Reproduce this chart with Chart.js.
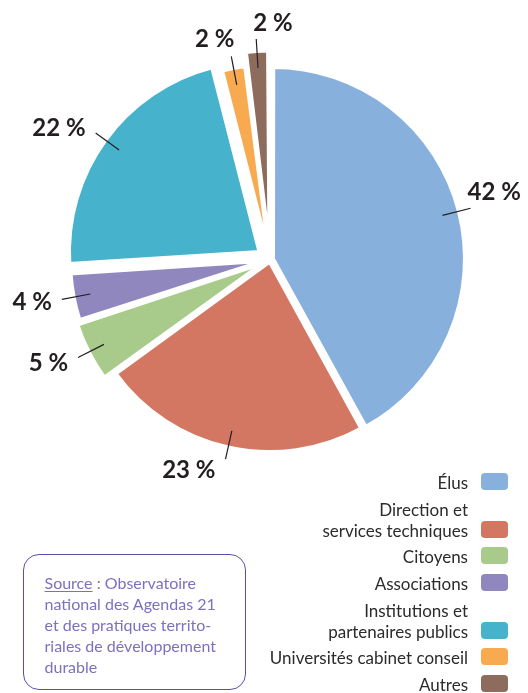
<!DOCTYPE html>
<html lang="fr">
<head>
    <meta charset="UTF-8">
    <title>Acteurs impliqués</title>
    <script src="https://cdn.jsdelivr.net/npm/chart.js"></script>
    <style>
        body {
            margin: 0;
            background: #fff;
            font-family: Lato, "Open Sans", sans-serif;
        }
        #page {
            position: relative;
            width: 528px;
            height: 693px;
            overflow: hidden;
        }
        #chart-container {
            position: absolute;
            left: 0;
            top: 0;
            width: 528px;
            height: 693px;
        }
        #legend {
            position: absolute;
            right: 20px;
            top: 472px;
            color: #2b2b2b;
            font-size: 17px;
            line-height: 21px;
        }
        .item {
            display: flex;
            justify-content: flex-end;
            align-items: flex-end;
            margin-bottom: 5.7px;
            text-align: right;
        }
        .box {
            width: 27px;
            height: 17px;
            border-radius: 4px;
            margin-left: 13px;
            margin-bottom: 3px;
            flex: none;
        }
        #source {
            position: absolute;
            left: 23px;
            top: 554px;
            width: 223px;
            height: 136px;
            box-sizing: border-box;
            border: 1.5px solid #5b4fae;
            border-radius: 16px;
            padding: 17px 0 0 20.5px;
            color: #7b71bf;
            font-size: 16px;
            line-height: 21px;
        }
        #source .src {
            text-decoration: underline;
            text-underline-offset: 2px;
        }
    </style>
</head>
<body>
<div id="page">
    <div id="chart-container">
        <canvas id="chart"></canvas>
    </div>
    <div id="legend"></div>
    <div id="source"><span class="src">Source</span> : Observatoire<br>national des Agendas 21<br>et des pratiques territo-<br>riales de développement<br>durable</div>
</div>
<script>
    const labels = ['Élus', 'Direction et\nservices techniques', 'Citoyens', 'Associations',
        'Institutions et\npartenaires publics', 'Universités cabinet conseil', 'Autres'];
    const values = [42, 23, 5, 4, 22, 2, 2];
    const colors = ['#87b0dd', '#d37762', '#a8ca8b', '#9087bf', '#47b2cc', '#f8aa50', '#8d6b5d'];

    // where each percentage sits relative to the end of its leader line
    const placement = ['aboveRight', 'left', 'left', 'left', 'left', 'aboveLeft', 'aboveRight'];

    const pctLabels = {
        id: 'pctLabels',
        afterDatasetsDraw(chart) {
            const ctx = chart.ctx;
            const meta = chart.getDatasetMeta(0);
            ctx.save();
            ctx.font = 'bold 24px Lato';
            ctx.fillStyle = '#231f20';
            ctx.strokeStyle = '#231f20';
            ctx.lineWidth = 1.2;
            ctx.textBaseline = 'middle';
            meta.data.forEach((arc, i) => {
                const p = arc.getProps(['x', 'y', 'startAngle', 'endAngle', 'outerRadius', 'circumference'], true);
                const mid = (p.startAngle + p.endAngle) / 2;
                const dx = Math.cos(mid), dy = Math.sin(mid);
                // same shift and radius growth that the arc element applies for its offset
                const shift = (arc.options.offset || 0) / 4;
                const grow = shift * (1 - Math.sin(Math.min(Math.PI, p.circumference)));
                const ax = p.x + dx * shift, ay = p.y + dy * shift;
                const R = p.outerRadius + grow;
                const r0 = R - 17, r1 = R + 12;
                const ex = ax + dx * r1, ey = ay + dy * r1;
                ctx.beginPath();
                ctx.moveTo(ax + dx * r0, ay + dy * r0);
                ctx.lineTo(ex, ey);
                ctx.stroke();

                const text = values[i] + ' %';
                let tx, ty;
                if (placement[i] === 'left') {
                    ctx.textAlign = 'right';
                    tx = ex - 10;
                    ty = ey + 1 + dy * 10;
                } else if (placement[i] === 'aboveLeft') {
                    ctx.textAlign = 'right';
                    tx = ex + 3;
                    ty = ey - 17;
                } else {
                    ctx.textAlign = 'left';
                    tx = ex - 3;
                    ty = ey - 16;
                }
                ctx.fillText(text, tx, ty);
            });
            ctx.restore();
        }
    };

    const legendEl = document.getElementById('legend');
    labels.forEach((lab, i) => {
        const item = document.createElement('div');
        item.className = 'item';
        const txt = document.createElement('span');
        txt.innerHTML = lab.split('\n').join('<br>');
        const box = document.createElement('span');
        box.className = 'box';
        box.style.background = colors[i];
        item.appendChild(txt);
        item.appendChild(box);
        legendEl.appendChild(item);
    });

    const ctx = document.getElementById('chart').getContext('2d');
    const chart = new Chart(ctx, {
        type: 'pie',
        data: {
            labels: labels,
            datasets: [{
                data: values,
                backgroundColor: colors,
                borderColor: '#ffffff',
                borderWidth: 4,
                offset: [12, 8, 31, 22, 52, 10, 40],
                hoverOffset: 0
            }]
        },
        options: {
            responsive: true,
            maintainAspectRatio: false,
            animation: false,
            events: [],
            layout: {
                padding: { left: 51.7, top: 41.3, right: 39.5, bottom: 214.9 }
            },
            plugins: {
                legend: { display: false },
                tooltip: { enabled: false }
            }
        },
        plugins: [pctLabels]
    });
</script>
</body>
</html>
